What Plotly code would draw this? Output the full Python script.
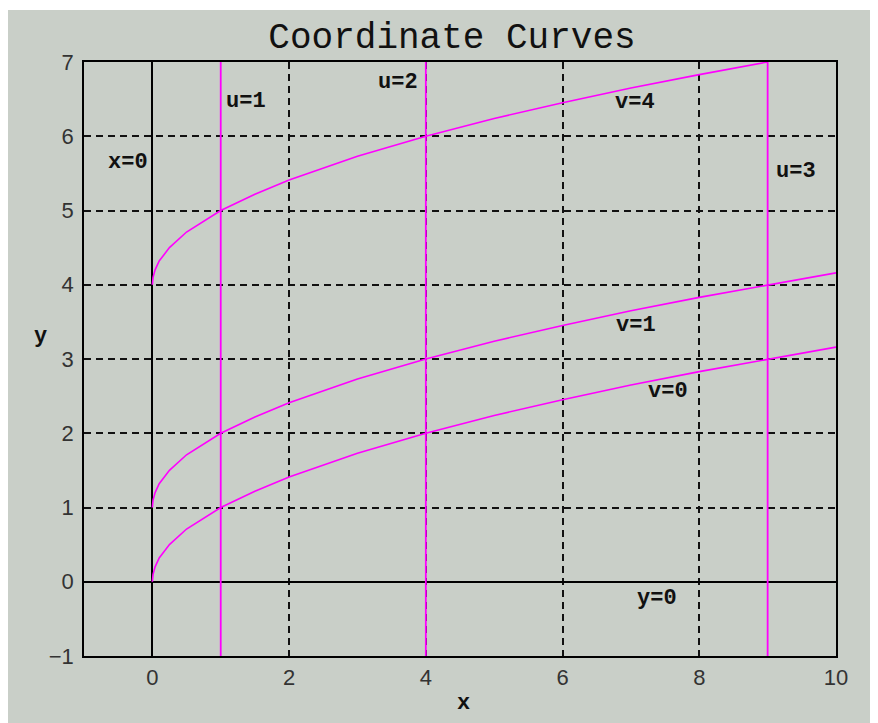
import plotly.graph_objects as go

# Coordinate curves
curve_x = [0, 0.01, 0.04, 0.1, 0.25, 0.5, 1, 1.5, 2, 3, 4, 5, 6, 7, 8, 9, 10]
v0_y = [0, 0.1, 0.2, 0.32, 0.5, 0.71, 1.0, 1.22, 1.41, 1.73, 2.0, 2.24, 2.45, 2.65, 2.83, 3.0, 3.16]
v1_y = [1, 1.1, 1.2, 1.32, 1.5, 1.71, 2.0, 2.22, 2.41, 2.73, 3.0, 3.24, 3.45, 3.65, 3.83, 4.0, 4.16]
v4_x = [0, 0.01, 0.04, 0.1, 0.25, 0.5, 1, 1.5, 2, 3, 4, 5, 6, 7, 8, 9]
v4_y = [4, 4.1, 4.2, 4.32, 4.5, 4.71, 5.0, 5.22, 5.41, 5.73, 6.0, 6.24, 6.45, 6.65, 6.83, 7.0]
u_x = [1, 4, 9]          # u=1, u=2, u=3 (x = u^2)
u_y = [-1, 7]

labels = ["u=1", "u=2", "v=4", "x=0", "u=3", "v=1", "v=0", "y=0"]
label_x = [1.37, 3.6, 7.06, -0.35, 9.42, 7.08, 7.54, 7.38]
label_y = [6.47, 6.73, 6.46, 5.64, 5.53, 3.45, 2.56, -0.22]

x_ticks = [0, 2, 4, 6, 8, 10]
y_ticks = [-1, 0, 1, 2, 3, 4, 5, 6, 7]

MAG = "#ff00ff"
INK = "#111111"
fig = go.Figure()
for ys, xs in [(v0_y, curve_x), (v1_y, curve_x), (v4_y, v4_x)]:
    fig.add_trace(go.Scatter(x=xs, y=ys, mode="lines",
                             line=dict(color=MAG, width=1.6), hoverinfo="skip"))
for ux in u_x:
    fig.add_trace(go.Scatter(x=[ux, ux], y=u_y, mode="lines",
                             line=dict(color=MAG, width=1.8), hoverinfo="skip"))

for t, xv, yv in zip(labels, label_x, label_y):
    fig.add_annotation(x=xv, y=yv, text="<b>" + t + "</b>", showarrow=False,
                       xanchor="center", yanchor="middle",
                       font=dict(family="Liberation Mono", size=22, color=INK))

W, H = 870, 715
L, R, T, B = 76, 42, 54, 67
pw, ph = W - L - R, H - T - B

# gray panel background
fig.add_shape(type="rect", xref="paper", yref="paper", layer="below",
              x0=(-1 - L) / pw, x1=(W + 5 - L) / pw,
              y0=(H - B - (H + 5)) / ph, y1=(H - B - 2) / ph,
              fillcolor="#c9cfc8", line=dict(width=0))

# axis titles (upright)
fig.add_annotation(xref="paper", yref="paper", x=(32 - L) / pw, y=(H - B - 328) / ph,
                   text="<b>y</b>", showarrow=False, xanchor="center", yanchor="middle",
                   font=dict(family="Liberation Mono", size=22, color=INK))
fig.add_annotation(xref="paper", yref="paper", x=(455 - L) / pw, y=(H - B - 695) / ph,
                   text="<b>x</b>", showarrow=False, xanchor="center", yanchor="middle",
                   font=dict(family="Liberation Mono", size=22, color=INK))

axis_common = dict(
    showgrid=True, gridcolor="#111111", gridwidth=1.6, griddash="7px,5px",
    zeroline=True, zerolinecolor="#000000", zerolinewidth=1.5,
    showline=True, linecolor="#000000", linewidth=1.5, mirror=True,
    ticks="", tickfont=dict(family="Liberation Sans", size=22, color="#333333"),
    fixedrange=True,
)
fig.update_layout(
    width=W, height=H,
    margin=dict(l=L, r=R, t=T, b=B),
    paper_bgcolor="white", plot_bgcolor="white",
    showlegend=False,
    title=dict(text="Coordinate Curves", x=(444 - L) / pw, xref="paper", xanchor="center",
               y=1 - 27 / H, yanchor="middle",
               font=dict(family="Liberation Mono", size=36, color=INK)),
    xaxis=dict(range=[-1, 10], tickvals=x_ticks, ticklabelstandoff=1, **axis_common),
    yaxis=dict(range=[-1, 7], tickvals=y_ticks, ticklabelstandoff=4, **axis_common),
)
fig.write_html("out.html")
